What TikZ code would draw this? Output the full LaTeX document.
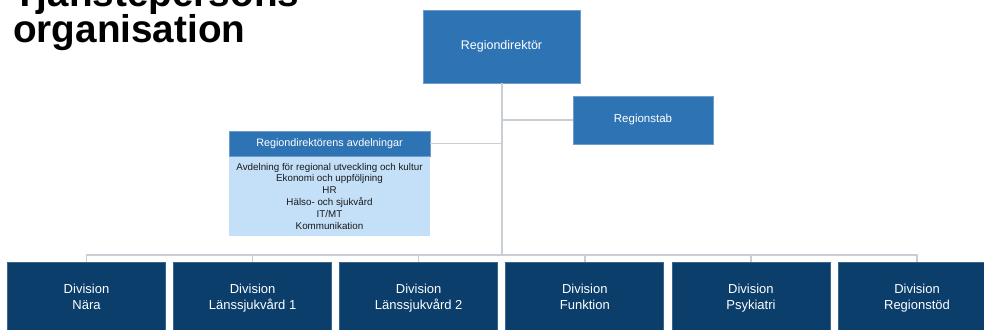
\documentclass[tikz,border=0pt]{standalone}
\usepackage{fontspec}
\setmainfont{Liberation Sans}
\usepackage{xcolor}
\usepackage{tikz}
\usetikzlibrary{positioning}

\definecolor{rdblue}{HTML}{2E74B5}
\definecolor{avdlight}{HTML}{C4E0F9}
\definecolor{divnavy}{HTML}{0B3E6B}
\definecolor{linegray}{HTML}{C9CED4}

\begin{document}
\begin{tikzpicture}[x=1pt,y=-1pt,
    topbox/.style={fill=rdblue,draw=rdblue!70!white,line width=0.8pt,text=white,inner sep=0pt,align=center},
    divbox/.style={fill=divnavy,draw=divnavy!80!white,line width=0.8pt,text=white,inner sep=0pt,align=center,
        minimum width=158pt,minimum height=72pt,font=\fontsize{13}{16}\selectfont},
    link/.style={draw=linegray,line width=1.5pt}]
\clip (0,0) rectangle (984,329);
\fill[white] (0,0) rectangle (984,329);
% title
\node[anchor=base west,inner sep=0pt,font=\fontsize{38.7}{38.7}\bfseries\selectfont] (title1) at (13,7) {Tjänstepersons};
\node[anchor=base west,inner sep=0pt,font=\fontsize{38.7}{38.7}\bfseries\selectfont] (title2) at (13,42) {organisation};
% top level
\node[topbox,minimum width=157pt,minimum height=73pt,font=\fontsize{12.5}{15}\selectfont] (rd) at (501.5,46.5) {Regiondirektör};
\node[topbox,minimum width=140pt,minimum height=48pt,font=\fontsize{11.5}{14}\selectfont] (stab) at (643,120) {Regionstab};
\node[topbox,minimum width=201pt,minimum height=25pt,font=\fontsize{10.8}{13}\selectfont] (avdhead) at (329.5,143.5) {Regiondirektörens avdelningar};
\node[fill=avdlight,inner sep=0pt,minimum width=201pt,minimum height=79pt,below=0pt of avdhead,align=center,
    font=\fontsize{9.8}{11.8}\selectfont,text=black!90] (avdbody) {Avdelning för regional utveckling och kultur\\Ekonomi och uppföljning\\HR\\Hälso- och sjukvård\\IT/MT\\Kommunikation};
\coordinate (bus) at (502,255);
% connectors
\draw[link] (rd.south -| bus) -- (bus);
\draw[link] (stab.west) -- (stab.west -| bus);
\draw[link] (avdhead.east) -- (avdhead.east -| bus);
% divisions
\foreach \name/\txt [count=\i from 0] in {nara/Nära,lans1/Länssjukvård 1,lans2/Länssjukvård 2,funk/Funktion,psyk/Psykiatri,stod/Regionstöd}{
    \node[divbox] (\name) at (86.5+166.1*\i,298) {Division\strut\\\txt\strut};
    \draw[link] (bus) -| (\name.north);
}
\end{tikzpicture}
\end{document}
